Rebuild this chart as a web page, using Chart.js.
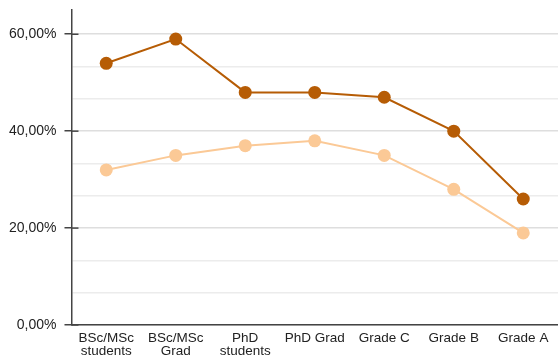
<!DOCTYPE html>
<html>
<head>
<meta charset="utf-8">
<script src="https://cdn.jsdelivr.net/npm/chart.js@4.4.1/dist/chart.umd.min.js"></script>
<style>
  html, body { margin: 0; padding: 0; background: #fff; }
  #wrap { width: 558px; height: 358px; }
</style>
</head>
<body>
<div id="wrap"><canvas id="chart"></canvas></div>
<script>
const categories = [
  ["BSc/MSc", "students"],
  ["BSc/MSc", "Grad"],
  ["PhD", "students"],
  "PhD Grad",
  "Grade C",
  "Grade B",
  "Grade A",
];
const darkSeries = [54, 59, 48, 48, 47, 40, 26];
const lightSeries = [32, 35, 37, 38, 35, 28, 19];
const yTicks = [0, 20 / 3, 40 / 3, 20, 80 / 3, 100 / 3, 40, 140 / 3, 160 / 3, 60];

const isMajor = (v) => Math.abs(v / 20 - Math.round(v / 20)) < 1e-6;

// tick marks crossing the y axis (inner half)
const innerTicks = {
  id: "innerTicks",
  afterDraw(chart) {
    const y = chart.scales.y;
    const c = chart.ctx;
    c.save();
    c.strokeStyle = "#444";
    c.lineWidth = 1.5;
    y.ticks.forEach((t) => {
      if (!isMajor(t.value)) return;
      const py = y.getPixelForValue(t.value);
      c.beginPath();
      c.moveTo(y.right, py);
      c.lineTo(y.right + 7, py);
      c.stroke();
    });
    c.restore();
  },
};

new Chart(document.getElementById("chart"), {
  type: "line",
  data: {
    labels: categories,
    datasets: [
      {
        data: darkSeries,
        borderColor: "#b65c05",
        backgroundColor: "#b65c05",
        borderWidth: 2,
        pointRadius: 6.5,
        pointHoverRadius: 6.5,
        pointBorderWidth: 0,
      },
      {
        data: lightSeries,
        borderColor: "#fbc996",
        backgroundColor: "#fbc996",
        borderWidth: 2,
        pointRadius: 6.5,
        pointHoverRadius: 6.5,
        pointBorderWidth: 0,
      },
    ],
  },
  options: {
    responsive: true,
    maintainAspectRatio: false,
    animation: false,
    layout: { autoPadding: false, padding: { left: 1, top: 10, right: 0, bottom: 0 } },
    plugins: {
      legend: { display: false },
      tooltip: { enabled: false },
    },
    scales: {
      x: {
        offset: true,
        afterFit(scale) {
          scale.paddingLeft = 0;
          scale.paddingRight = 0;
          scale.height = 33;
        },
        grid: { display: false, drawTicks: false },
        border: { color: "#444", width: 1.5 },
        ticks: {
          color: "#222",
          font: { family: "Liberation Sans, Arial", size: 13.5, lineHeight: 0.96 },
          padding: 7,
          maxRotation: 0,
          autoSkip: false,
        },
      },
      y: {
        min: 0,
        max: 65,
        afterBuildTicks(scale) {
          scale.ticks = yTicks.map((v) => ({ value: v }));
        },
        afterFit(scale) {
          scale.paddingTop = 0;
          scale.paddingBottom = 0;
        },
        grid: {
          color: (ctx) => (isMajor(ctx.tick.value) ? "#dedede" : "#ececec"),
          lineWidth: 1.5,
          tickLength: 7,
          tickColor: (ctx) => (isMajor(ctx.tick.value) ? "#444" : "rgba(0,0,0,0)"),
          tickWidth: 1.5,
        },
        border: { color: "#444", width: 1.5 },
        ticks: {
          color: "#222",
          font: { family: "Liberation Sans, Arial", size: 14 },
          padding: 8,
          callback: (v) => (isMajor(v) ? v.toFixed(2).replace(".", ",") + "%" : ""),
        },
      },
    },
  },
  plugins: [innerTicks],
});
</script>
</body>
</html>
